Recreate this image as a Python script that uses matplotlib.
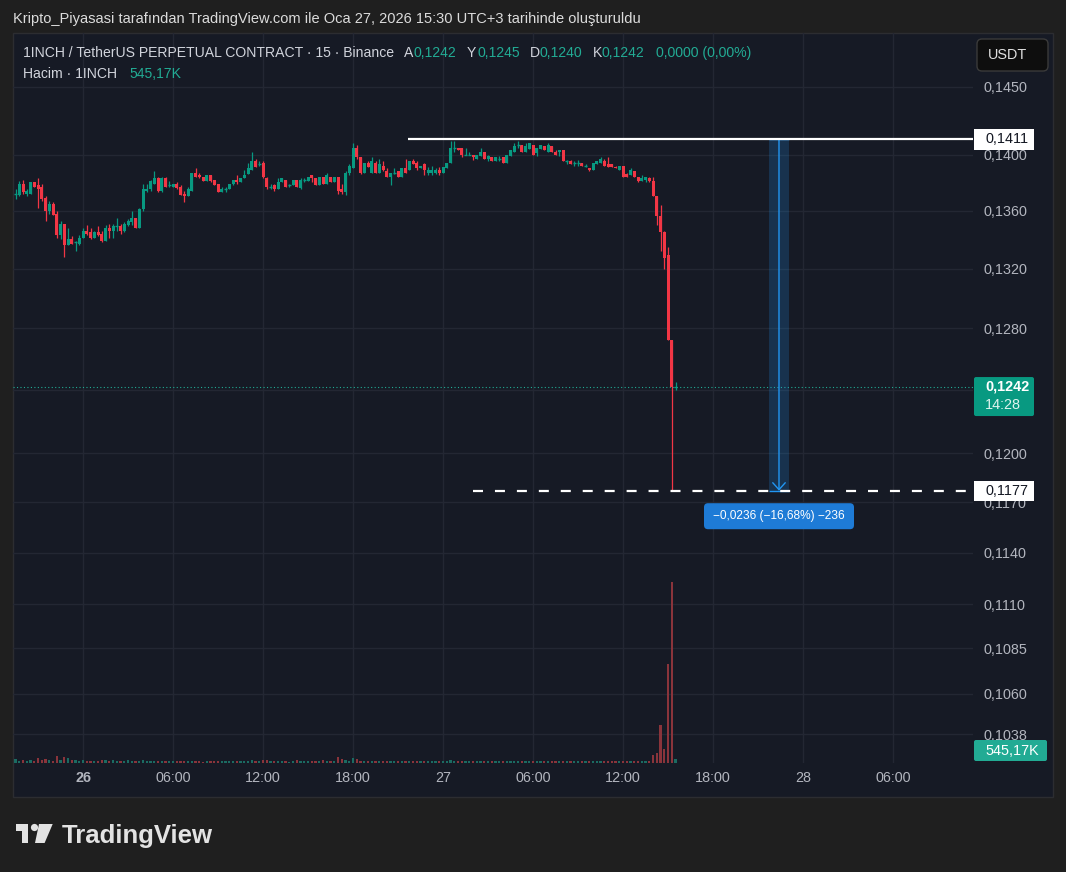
import numpy as np
import matplotlib
matplotlib.use("Agg")
import matplotlib.pyplot as plt
from matplotlib.patches import Rectangle, FancyBboxPatch, Polygon, Circle
from matplotlib.ticker import NullLocator
from matplotlib.transforms import IdentityTransform

W, H = 1066, 872
plt.rcParams['font.family'] = ['Liberation Sans', 'DejaVu Sans']
plt.rcParams['lines.scale_dashes'] = False

# ---------------- data (15-minute bars, bar 0 = 26 Jan 00:00 UTC+3) ----------------
first_bar = -18
opens = [
    .1372, .1371, .1379, .1372, .1372, .1380, .1378, .1377, .1369, .1360,
    .1365, .1358, .1343, .1351, .1336, .1340, .1338, .1337, .1341, .1346,
    .1345, .1341, .1345, .1344, .1339, .1348, .1346, .1349, .1349, .1346,
    .1350, .1352, .1355, .1348, .1361, .1374, .1375, .1379, .1383, .1374,
    .1383, .1378, .1377, .1379, .1377, .1372, .1370, .1374, .1387, .1385,
    .1384, .1381, .1385, .1382, .1379, .1373, .1375, .1375, .1379, .1382,
    .1380, .1383, .1386, .1389, .1395, .1393, .1394, .1383, .1377, .1378,
    .1375, .1380, .1382, .1378, .1378, .1382, .1376, .1382, .1381, .1385,
    .1383, .1378, .1384, .1379, .1384, .1380, .1384, .1375, .1373, .1387,
    .1390, .1405, .1398, .1387, .1394, .1387, .1394, .1387, .1392, .1388,
    .1384, .1387, .1388, .1384, .1390, .1389, .1395, .1394, .1390, .1393,
    .1387, .1387, .1387, .1389, .1387, .1390, .1394, .1405, .1405, .1405,
    .1400, .1400, .1400, .1397, .1399, .1402, .1397, .1398, .1395, .1397,
    .1398, .1394, .1399, .1402, .1407, .1407, .1402, .1404, .1407, .1401,
    .1404, .1406, .1402, .1406, .1402, .1402, .1403, .1395, .1395, .1394,
    .1394, .1394, .1392, .1390, .1389, .1393, .1394, .1395, .1393, .1393,
    .1391, .1389, .1392, .1386, .1385, .1388, .1384, .1381, .1382, .1383,
    .1381, .1370, .1356, .1345, .1329, .1272, .1242,
]
highs = [
    .1375, .1381, .1382, .1375, .1380, .1380, .1383, .1379, .1370, .1367,
    .1366, .1360, .1353, .1351, .1348, .1342, .1339, .1343, .1348, .1350,
    .1348, .1346, .1349, .1346, .1350, .1351, .1351, .1355, .1351, .1352,
    .1354, .1360, .1355, .1362, .1379, .1379, .1382, .1388, .1384, .1384,
    .1384, .1381, .1379, .1380, .1378, .1374, .1377, .1387, .1390, .1387,
    .1384, .1385, .1385, .1382, .1379, .1377, .1377, .1379, .1382, .1385,
    .1383, .1389, .1394, .1402, .1397, .1395, .1395, .1384, .1379, .1379,
    .1383, .1383, .1382, .1379, .1382, .1382, .1383, .1383, .1384, .1385,
    .1383, .1384, .1384, .1387, .1384, .1384, .1384, .1379, .1388, .1393,
    .1408, .1407, .1398, .1394, .1395, .1398, .1395, .1397, .1395, .1390,
    .1387, .1390, .1388, .1390, .1397, .1395, .1397, .1395, .1392, .1394,
    .1391, .1392, .1390, .1391, .1391, .1394, .1410, .1410, .1405, .1405,
    .1405, .1402, .1400, .1400, .1405, .1402, .1400, .1398, .1398, .1399,
    .1398, .1400, .1403, .1408, .1410, .1407, .1408, .1408, .1407, .1405,
    .1407, .1406, .1408, .1406, .1403, .1403, .1403, .1396, .1396, .1395,
    .1396, .1394, .1393, .1390, .1394, .1395, .1398, .1397, .1398, .1393,
    .1392, .1392, .1392, .1387, .1390, .1388, .1384, .1385, .1384, .1384,
    .1384, .1370, .1364, .1346, .1335, .1272, .1245,
]
lows = [
    .1368, .1370, .1372, .1370, .1372, .1377, .1362, .1367, .1353, .1358,
    .1357, .1341, .1340, .1328, .1336, .1337, .1332, .1336, .1341, .1343,
    .1340, .1341, .1342, .1338, .1339, .1341, .1341, .1346, .1344, .1345,
    .1349, .1350, .1348, .1348, .1360, .1373, .1374, .1379, .1373, .1373,
    .1377, .1377, .1377, .1375, .1371, .1366, .1370, .1374, .1384, .1383,
    .1381, .1381, .1380, .1378, .1373, .1373, .1373, .1375, .1378, .1379,
    .1380, .1383, .1386, .1389, .1391, .1392, .1383, .1375, .1375, .1374,
    .1375, .1380, .1377, .1377, .1378, .1377, .1375, .1380, .1381, .1380,
    .1378, .1378, .1379, .1379, .1380, .1380, .1372, .1372, .1371, .1385,
    .1390, .1397, .1386, .1387, .1391, .1387, .1387, .1387, .1388, .1384,
    .1378, .1386, .1384, .1384, .1387, .1389, .1393, .1389, .1390, .1385,
    .1385, .1385, .1386, .1385, .1387, .1390, .1394, .1402, .1403, .1398,
    .1400, .1400, .1396, .1397, .1399, .1397, .1395, .1395, .1395, .1395,
    .1394, .1394, .1399, .1402, .1405, .1402, .1402, .1404, .1400, .1399,
    .1404, .1403, .1402, .1402, .1400, .1399, .1395, .1393, .1393, .1392,
    .1392, .1392, .1391, .1388, .1389, .1393, .1394, .1392, .1391, .1391,
    .1390, .1389, .1384, .1384, .1385, .1384, .1380, .1381, .1380, .1380,
    .1370, .1350, .1332, .1320, .1272, .1177, .1240,
]
closes = [
    .1372, .1379, .1373, .1374, .1380, .1377, .1375, .1368, .1360, .1365,
    .1357, .1343, .1351, .1336, .1340, .1337, .1338, .1341, .1346, .1344,
    .1341, .1345, .1343, .1339, .1348, .1346, .1349, .1349, .1346, .1351,
    .1353, .1355, .1348, .1361, .1375, .1375, .1381, .1383, .1374, .1383,
    .1377, .1378, .1379, .1376, .1371, .1370, .1375, .1387, .1384, .1384,
    .1381, .1385, .1381, .1378, .1373, .1375, .1375, .1379, .1382, .1380,
    .1383, .1385, .1390, .1395, .1391, .1393, .1384, .1377, .1377, .1375,
    .1380, .1383, .1377, .1378, .1382, .1377, .1382, .1382, .1384, .1383,
    .1378, .1384, .1379, .1385, .1380, .1384, .1374, .1373, .1387, .1392,
    .1405, .1398, .1387, .1394, .1391, .1395, .1387, .1393, .1389, .1384,
    .1387, .1387, .1384, .1390, .1387, .1395, .1393, .1390, .1392, .1389,
    .1389, .1389, .1389, .1387, .1391, .1394, .1405, .1405, .1403, .1400,
    .1400, .1400, .1398, .1400, .1402, .1397, .1399, .1395, .1398, .1397,
    .1394, .1400, .1403, .1406, .1407, .1402, .1406, .1408, .1400, .1405,
    .1407, .1403, .1407, .1402, .1400, .1403, .1395, .1395, .1393, .1394,
    .1394, .1392, .1392, .1389, .1394, .1395, .1397, .1392, .1391, .1391,
    .1390, .1392, .1384, .1384, .1389, .1384, .1381, .1383, .1384, .1381,
    .1370, .1356, .1345, .1327, .1272, .1242, .1242,
]
volumes_k = [
    540, 270, 410, 310, 450, 280, 690, 450, 590, 400, 280, 950, 410, 820, 680, 400, 410, 270,
    400, 280, 270, 290, 270, 410, 400, 280, 390, 260,
    280, 270, 400, 290, 280, 270, 420, 280, 270, 260,
    280, 270, 280, 250, 270, 280, 270, 290, 270, 280,
    270, 260, 140, 270, 280, 270, 280, 260, 270, 280,
    270, 260, 270, 280, 270, 410, 280, 270, 450, 440,
    270, 280, 270, 260, 280, 150, 270, 400, 280, 270,
    260, 280, 270, 260, 410, 270, 280,
    270, 820, 540, 410, 300, 680, 540, 300,
    260, 240, 280, 250, 230, 270, 220, 250, 260, 240,
    230, 250, 270, 240, 260, 230, 220, 250, 240, 260,
    280, 250, 230, 380, 300, 260, 240, 230, 250, 220,
    240, 250, 230, 220, 240, 250, 230, 260, 240, 270,
    250, 290, 240, 230, 250, 240, 260, 230, 220, 240,
    230, 250, 220, 260, 240, 230, 220, 250, 230, 240,
    220, 250, 240, 260, 230, 240, 220, 230, 250, 240,
    260, 240, 250, 260, 270, 250, 280,
    1050, 1320, 5130, 1900, 13600, 24750, 545.17,
]

time_tick_hours = [0, 6, 12, 18, 24, 30, 36, 42, 48, 54]
time_tick_labels = ["26", "06:00", "12:00", "18:00", "27", "06:00", "12:00", "18:00", "28", "06:00"]
price_ticks = [0.1450, 0.1400, 0.1360, 0.1320, 0.1280, 0.1240, 0.1200, 0.1170,
               0.1140, 0.1110, 0.1085, 0.1060, 0.1038]
hidden_tick = 0.1240        # its label sits under the last-price tag

ray_price = 0.1411          # horizontal ray
ray_start_bar = 86.7
target_price = 0.1177       # dashed level
target_start_bar = 104.0
range_bars = (182.9, 188.3)  # price-range measuring tool
range_text = "\u22120,0236 (\u221216,68%) \u2212236"
last_price_text = "0,1242"
countdown_text = "14:28"
last_volume_text = "545,17K"

title_text = ("Kripto_Piyasasi tarafından TradingView.com ile Oca 27, 2026 15:30 "
              "UTC+3 tarihinde oluşturuldu")
symbol_text = "1INCH / TetherUS PERPETUAL CONTRACT · 15 · Binance"
ohlc_names = ["A", "Y", "D", "K"]
ohlc_values = ["0,1242", "0,1245", "0,1240", "0,1242"]
change_text = "0,0000 (0,00%)"
volume_title = "Hacim · 1INCH"

# ---------------- setup ----------------
O = np.array(opens); Hi = np.array(highs); Lo = np.array(lows); C = np.array(closes)
V = np.array(volumes_k)
idx = np.arange(first_bar, first_bar + len(O))
up = C >= O
UP, DOWN = '#089981', '#f23645'
cols = np.where(up, UP, DOWN)
vcols = np.where(up, '#1b6b62', '#8a343b')

BG_OUT = '#1f1f1f'
BG_PANE = '#161a25'
GRID = '#232733'
AXTXT = '#b2b5be'
TEAL = '#22ab94'

fig = plt.figure(figsize=(W / 100, H / 100), dpi=100)
fig.patch.set_facecolor(BG_OUT)
renderer = fig.canvas.get_renderer()
ID = IdentityTransform()


def px_box(x0, y0, x1, y1, fc, ec='none', r=0.0, lw=1.0, z=5):
    style = f"round,pad=0,rounding_size={r}" if r > 0 else "square,pad=0"
    p = FancyBboxPatch((x0, H - y1), x1 - x0, y1 - y0, boxstyle=style,
                       transform=ID, facecolor=fc, edgecolor=ec, linewidth=lw, zorder=z)
    fig.add_artist(p)
    return p


def ptext(x, y, s, size, color, width=None, **kw):
    t = fig.text(x / W, 1 - y / H, s, fontsize=size, color=color, zorder=7, **kw)
    if width is not None:
        w = t.get_window_extent(renderer).width
        t.set_fontsize(size * width / w)
    return t


# chart pane background
fig.add_artist(Rectangle((13 / W, 1 - 797 / H), 1040 / W, 764 / H, transform=fig.transFigure,
                         facecolor=BG_PANE, edgecolor='#2c2d31', lw=1, zorder=-5))

pos = [13 / W, 1 - 763 / H, 960 / W, 730 / H]
ax = fig.add_axes(pos, zorder=1)
axv = fig.add_axes(pos, zorder=2)
for a in (ax, axv):
    a.set_facecolor('none')
    for s in a.spines.values():
        s.set_visible(False)

xlim = (-18.667, 237.333)

# volume
axv.bar(idx, V, width=0.55, color=vcols, linewidth=0)
axv.set_xlim(*xlim)
axv.set_ylim(0, 99800)
axv.set_xticks([]); axv.set_yticks([])

# candles
ax.set_yscale('log')
ax.vlines(idx, Lo, Hi, colors=cols, linewidth=0.9, zorder=2)
bot = np.minimum(O, C); top = np.maximum(O, C)
ax.bar(idx, top - bot, bottom=bot, width=0.8, color=cols, linewidth=0, zorder=2)
doji = top == bot
ax.hlines(C[doji], idx[doji] - 0.4, idx[doji] + 0.4, colors=cols[doji], linewidth=1.0, zorder=2)

ax.set_xlim(*xlim)
ax.set_ylim(0.10227, 0.14906)

ax.set_yticks(price_ticks,
              labels=["" if p == hidden_tick else f"{p:.4f}".replace('.', ',') for p in price_ticks])
ax.yaxis.set_minor_locator(NullLocator())
ax.yaxis.tick_right()
ax.tick_params(axis='y', which='both', length=0, pad=7.5, labelsize=10.4, labelcolor=AXTXT)
ax.set_xticks([h * 4 for h in time_tick_hours], labels=time_tick_labels)
ax.tick_params(axis='x', length=0, pad=5.5, labelsize=10.4, labelcolor=AXTXT)
ax.get_xticklabels()[0].set_fontweight('bold')
ax.grid(True, color=GRID, linewidth=1)
ax.set_axisbelow(True)

# current price dotted line
ax.axhline(C[-1], color=TEAL, lw=0.8, dashes=(0.8, 1.7), zorder=3)

# price range tool
r0, r1 = range_bars
mid = (r0 + r1) / 2
ax.fill_between([r0, r1], target_price, ray_price, color='#2196f3', alpha=0.2, lw=0, zorder=3)
ax.hlines([ray_price, target_price], r0, r1, colors='#2196f3', lw=1, zorder=3)
ax.annotate('', xy=(mid, target_price), xytext=(mid, ray_price),
            arrowprops=dict(arrowstyle='->,head_length=0.5,head_width=0.45', color='#2196f3',
                            lw=1, shrinkA=0, shrinkB=0), zorder=4)

# horizontal ray and dashed level
ax.plot([ray_start_bar, xlim[1]], [ray_price, ray_price], color='white', lw=1.6, zorder=5,
        solid_capstyle='butt')
ax.plot([target_start_bar, xlim[1]], [target_price, target_price], color='white', lw=1.6,
        dashes=(7.2, 8.6), zorder=5, dash_capstyle='butt')


def ypix(price):
    return H - ax.transData.transform((0, price))[1]


def xpix(bar):
    return ax.transData.transform((bar, ray_price))[0]


# range label
cx = xpix(mid)
yt = ypix(target_price)
px_box(cx - 75, yt + 12.5, cx + 75, yt + 38.5, '#1e7bd6', r=4)
ptext(cx, yt + 25.5, range_text, 9, 'white', width=132, ha='center', va='center')

# price axis labels
yr = ypix(ray_price)
px_box(974, yr - 10, 1034, yr + 10.5, 'white')
ptext(985, yr, f"{ray_price:.4f}".replace('.', ','), 10.4, '#131722', va='center')

ytg = ypix(target_price)
px_box(974, ytg - 10, 1034, ytg + 10.5, 'white')
ptext(985, ytg, f"{target_price:.4f}".replace('.', ','), 10.4, '#131722', va='center')

ylp = ypix(C[-1])
px_box(974, ylp - 9.5, 1034, ylp + 29.5, UP, r=2)
ptext(985, ylp, last_price_text, 10.4, 'white', va='center', fontweight='bold')
ptext(985, ylp + 18.5, countdown_text, 10.4, '#dff3ee', va='center')

px_box(974, 740, 1047, 761, TEAL, r=2)
ptext(985, 750.5, last_volume_text, 10.4, 'white', va='center')

# USDT button
px_box(977, 39, 1048, 71, '#0e0e0e', ec='#3a3a3a', r=5)
ptext(988, 55, "USDT", 10.4, '#e0e0e0', va='center')

# title and legend texts
ptext(13, 19, title_text, 10, '#dcdcdc', width=627, va='center')
hdr = ptext(23, 53, symbol_text, 10, '#d1d4dc', width=372, va='center')
fs = hdr.get_fontsize()
name_x = [404, 467, 530, 593]
val_x = [414, 477, 540, 602]
for n, v, xn, xv in zip(ohlc_names, ohlc_values, name_x, val_x):
    ptext(xn, 53, n, fs, '#d1d4dc', va='center')
    ptext(xv, 53, v, fs, TEAL, va='center')
ptext(656, 53, change_text, fs, TEAL, va='center')
ptext(23, 74, volume_title, fs, '#d1d4dc', va='center')
ptext(129, 74, last_volume_text, fs, TEAL, va='center')

# TradingView logo
LOGO = '#e3e3e3'
fig.add_artist(Rectangle((15.5, H - 831), 12.5, 7, transform=ID, facecolor=LOGO, lw=0))
fig.add_artist(Rectangle((22, H - 843), 6, 19, transform=ID, facecolor=LOGO, lw=0))
fig.add_artist(Circle((34.5, H - 827.5), 3.6, transform=ID, facecolor=LOGO, lw=0))
fig.add_artist(Polygon([(39, H - 824), (52.7, H - 824), (44.6, H - 843), (35, H - 843)],
                       closed=True, transform=ID, facecolor=LOGO, lw=0))
ptext(62, 843, "TradingView", 18, LOGO, width=151, va='baseline', fontweight='bold')

fig.savefig('out.png', dpi=100, facecolor=BG_OUT)
